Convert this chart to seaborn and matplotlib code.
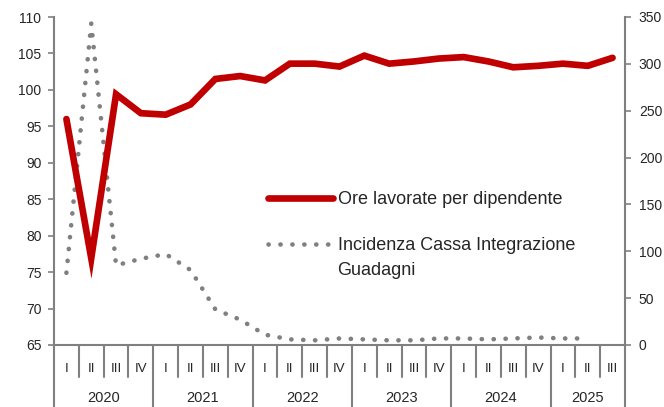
import matplotlib
matplotlib.use('Agg')
import matplotlib.pyplot as plt
import matplotlib.transforms as mtrans
from matplotlib.lines import Line2D
import seaborn as sb
import numpy as np
import pandas as pd

years = ['2020', '2021', '2022', '2023', '2024', '2025']
quarters = ['I', 'II', 'III', 'IV'] * 5 + ['I', 'II', 'III']
ore_lavorate = [96.0, 76.9, 99.4, 96.8, 96.6, 98.0, 101.5, 101.9, 101.3, 103.6, 103.6, 103.2,
                104.7, 103.6, 103.9, 104.3, 104.5, 103.9, 103.1, 103.3, 103.6, 103.3, 104.4]
cig = [77, 343, 85, 92, 97, 80, 38, 27, 11, 6, 5, 7,
       6, 5, 5, 7, 7, 6, 7, 8, 7, 7, np.nan]

df = pd.DataFrame({'q': np.arange(len(quarters)), 'ore': ore_lavorate, 'cig': cig})

sb.set_style('white')
plt.rcParams['font.family'] = ['Liberation Sans', 'DejaVu Sans']
red = '#C00000'
grey = '#808080'
txt = '#262626'
dots = (0, (0.05, 2.55))

fig = plt.figure(figsize=(6.64, 4.07), dpi=100)
ax = fig.add_axes([54 / 664, 1 - 345 / 407, 571 / 664, 328 / 407])
ax2 = ax.twinx()

sb.lineplot(data=df, x='q', y='cig', ax=ax2, color=grey, linewidth=3.3,
            linestyle=dots, dash_capstyle='round', zorder=1)
sb.lineplot(data=df, x='q', y='ore', ax=ax, color=red, linewidth=4.8, zorder=3,
            solid_joinstyle='miter')
ax.set_zorder(ax2.get_zorder() + 1)
ax.patch.set_visible(False)

ax.set_xlim(-0.5, len(quarters) - 0.5)
ax.set_ylim(65, 110)
ax.set_yticks(np.arange(65, 111, 5))
ax2.set_ylim(0, 350)
ax2.set_yticks(np.arange(0, 351, 50))
ax.set_xlabel('')
ax.set_ylabel('')
ax2.set_ylabel('')

for a in (ax, ax2):
    for s in a.spines.values():
        s.set_visible(False)
    a.tick_params(axis='y', colors=grey, labelcolor=txt, labelsize=10, length=4, width=1.2, direction='out')
ax.tick_params(axis='y', pad=5)
ax2.tick_params(axis='y', pad=6)
ax.spines['left'].set_visible(True)
ax.spines['bottom'].set_visible(True)
ax2.spines['right'].set_visible(True)
for s in [ax.spines['left'], ax.spines['bottom'], ax2.spines['right']]:
    s.set_color(grey)
    s.set_linewidth(1.5)

# quarter labels
ax.set_xticks(df['q'])
ax.set_xticklabels(quarters)
ax.tick_params(axis='x', length=0, labelsize=9.5, labelcolor=txt, pad=13)

# separators and year labels
trans = mtrans.blended_transform_factory(ax.transData, ax.transAxes)
for b in np.arange(-0.5, len(quarters), 1.0):
    year_edge = (b + 0.5) % 4 == 0 or b == len(quarters) - 0.5
    y1 = -62 / 328 if year_edge else -32 / 328
    ax.add_line(Line2D([b, b], [0, y1], transform=trans, color=grey, lw=1.5, clip_on=False))
for i, y in enumerate(years):
    n = 4 if i < len(years) - 1 else 3
    ax.text(i * 4 - 0.5 + n / 2, -53 / 328, y, transform=trans, ha='center', va='center',
            fontsize=10.5, color=txt)

handles = [Line2D([], [], color=red, lw=4.8),
           Line2D([], [], color=grey, lw=3.3, linestyle=dots, dash_capstyle='round')]
labels = ['Ore lavorate per dipendente', 'Incidenza Cassa Integrazione']
leg = ax.legend(handles, labels, loc='upper left', bbox_to_anchor=(214 / 571, 1 - 174 / 328),
                frameon=False, fontsize=13, handlelength=3.6, handletextpad=0.25,
                labelspacing=1.6, labelcolor=txt, borderpad=0, borderaxespad=0)
fig.canvas.draw()
t = leg.get_texts()[1]
bb = t.get_window_extent().transformed(ax.transAxes.inverted())
ax.text(bb.x0, bb.y0 - 8 / 328, 'Guadagni', transform=ax.transAxes, ha='left', va='top',
        fontsize=13, color=txt)

fig.savefig('out.png', dpi=100)
